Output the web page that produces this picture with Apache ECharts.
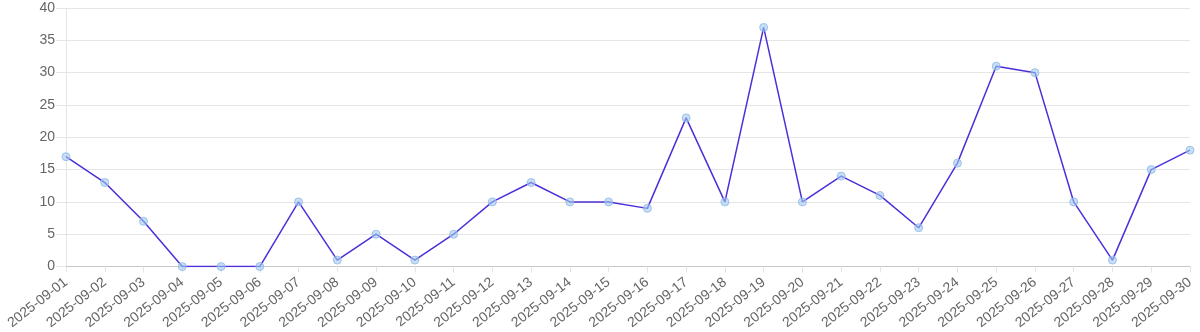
<!DOCTYPE html>
<html><head><meta charset="utf-8">
<script src="https://cdn.jsdelivr.net/npm/echarts@6/dist/echarts.min.js"></script>
<style>html,body{margin:0;padding:0;background:#fff}#c{width:1200px;height:332px}</style>
</head><body><div id="c"></div>
<script>
const categories = ['2025-09-01','2025-09-02','2025-09-03','2025-09-04','2025-09-05','2025-09-06','2025-09-07','2025-09-08','2025-09-09','2025-09-10','2025-09-11','2025-09-12','2025-09-13','2025-09-14','2025-09-15','2025-09-16','2025-09-17','2025-09-18','2025-09-19','2025-09-20','2025-09-21','2025-09-22','2025-09-23','2025-09-24','2025-09-25','2025-09-26','2025-09-27','2025-09-28','2025-09-29','2025-09-30'];
const values = [17,13,7,0,0,0,10,1,5,1,5,10,13,10,10,9,23,10,37,10,14,11,6,16,31,30,10,1,15,18];
const yTicks = {min:0, max:40, interval:5};
const chart = echarts.init(document.getElementById('c'), null, {renderer:'canvas'});
chart.setOption({
  animation:false,
  grid:{left:66, right:10, top:8, bottom:65, containLabel:false},
  xAxis:{type:'category', data:categories, boundaryGap:false,
    axisLine:{lineStyle:{color:'#c8c8c8'}},
    axisTick:{show:true, length:6, lineStyle:{color:'#e5e5e5'}, alignWithLabel:true},
    splitLine:{show:false},
    axisLabel:{rotate:38, fontSize:14, color:'#666', fontFamily:'Liberation Sans, Arial, sans-serif', margin:14, interval:0}
  },
  yAxis:{type:'value', min:yTicks.min, max:yTicks.max, interval:yTicks.interval,
    axisLine:{show:true, lineStyle:{color:'#e5e5e5'}},
    axisTick:{show:true, length:10, lineStyle:{color:'#e5e5e5'}},
    splitLine:{lineStyle:{color:'#e5e5e5'}},
    axisLabel:{fontSize:14, color:'#666', fontFamily:'Liberation Sans, Arial, sans-serif', margin:11}
  },
  series:[{type:'line', data:values, symbol:'circle', symbolSize:8,
    lineStyle:{color:'#4b2fd8', width:1.5},
    itemStyle:{color:'rgba(160,200,240,0.6)', borderColor:'rgba(140,185,230,0.8)', borderWidth:1}
  }]
});
</script></body></html>
